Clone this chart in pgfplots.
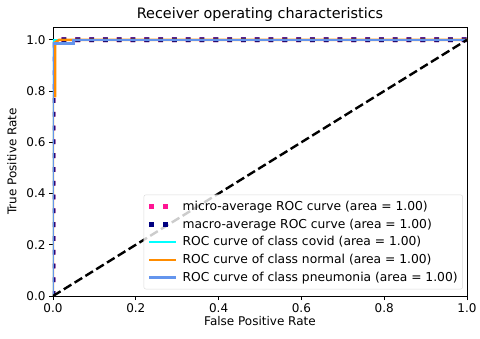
\documentclass[border=0pt]{standalone}
\usepackage{pgfplots}
\pgfplotsset{compat=1.18}
\usepackage{fontspec}
\setmainfont{DejaVu Sans}
\definecolor{deeppink}{RGB}{255,20,147}
\definecolor{navyc}{RGB}{0,0,128}
\definecolor{aquac}{RGB}{0,255,255}
\definecolor{dorange}{RGB}{255,140,0}
\definecolor{cflower}{RGB}{100,149,237}
\begin{document}
\begin{tikzpicture}
\useasboundingbox (-53pt,-42pt) rectangle (427pt,296pt);
\begin{axis}[
  scale only axis, width=414pt, height=269pt,
  xmin=0, xmax=1, ymin=0, ymax=1.05,
  xtick={0,0.2,...,1.0}, ytick={0,0.2,...,1.0},
  xticklabel style={/pgf/number format/.cd,fixed,fixed zerofill,precision=1},
  yticklabel style={/pgf/number format/.cd,fixed,fixed zerofill,precision=1},
  /pgf/number format/assume math mode=true,
  ticklabel style={font=\fontsize{12}{14}\selectfont},
  tick align=outside, tick pos=left, major tick length=4pt,
  tick style={black, line width=0.9pt},
  xlabel={False Positive Rate}, ylabel={True Positive Rate},
  label style={font=\fontsize{12}{14}\selectfont},
  xlabel style={yshift=3pt},
  ylabel style={yshift=3pt},
  title={Receiver operating characteristics},
  title style={font=\fontsize{14.4}{16}\selectfont, yshift=-4pt},
  legend style={font=\fontsize{12.3}{14}\selectfont, draw=black!15, rounded corners=2pt, fill=white, fill opacity=0.8, text opacity=1, row sep=3pt, column sep=2pt, inner xsep=3pt, inner ysep=4pt, at={(0.99,0.025)}, anchor=south east},
  legend cell align=left,
  legend image code/.code={\draw[#1] (0pt,0pt) -- (27pt,0pt);},
  axis line style={black, line width=0.9pt},
]
\addplot[deeppink, line width=4.8pt, dash pattern=on 4.8pt off 9pt] coordinates {(0,0) (0,0.97) (0.003,0.99) (0.008,1) (1,1)};
\addlegendentry{micro-average ROC curve (area = 1.00)}
\addplot[navyc, line width=4.8pt, dash pattern=on 4.8pt off 9pt] coordinates {(0,0) (0,0.98) (0.005,0.99) (0.01,1) (1,1)};
\addlegendentry{macro-average ROC curve (area = 1.00)}
\addplot[aquac, line width=2.4pt] coordinates {(0,0) (0,1) (1,1)};
\addlegendentry{ROC curve of class covid (area = 1.00)}
\addplot[dorange, line width=2.4pt] coordinates {(0,0) (0,0.78) (0.005,0.78) (0.005,0.99) (0.015,1) (1,1)};
\addlegendentry{ROC curve of class normal (area = 1.00)}
\addplot[cflower, line width=2.4pt] coordinates {(0,0) (0,0.985) (0.05,0.985) (0.05,1) (1,1)};
\addlegendentry{ROC curve of class pneumonia (area = 1.00)}
\addplot[black, line width=2.4pt, dash pattern=on 8.9pt off 3.8pt, forget plot] coordinates {(0,0) (1,1)};
\end{axis}
\end{tikzpicture}
\end{document}
